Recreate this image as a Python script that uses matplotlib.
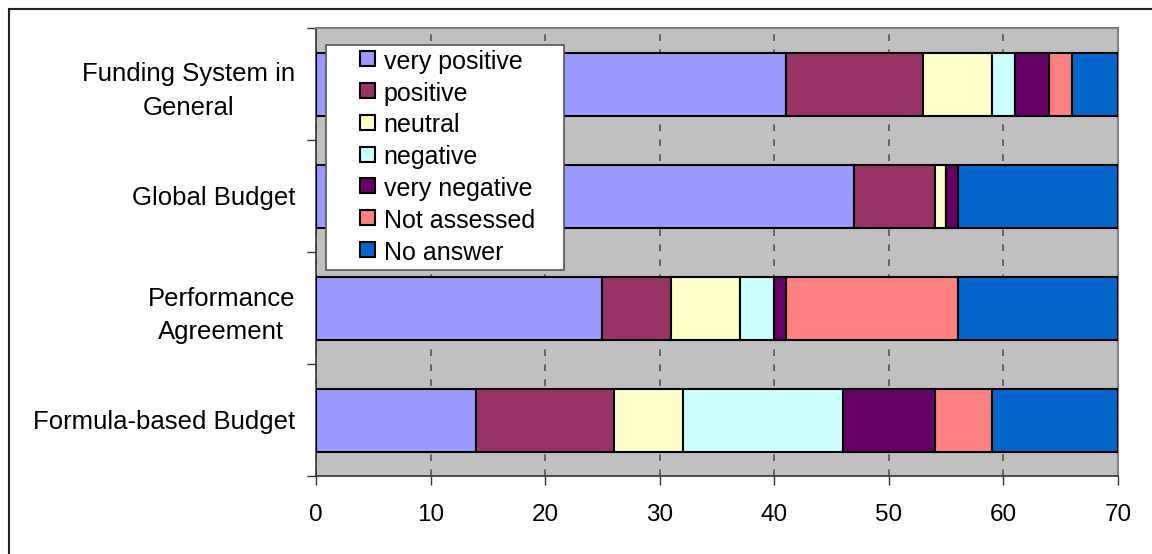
import matplotlib
matplotlib.use("Agg")
import matplotlib.pyplot as plt
import numpy as np
from matplotlib.patches import Rectangle
from matplotlib.legend_handler import HandlerBase
from matplotlib.container import BarContainer

categories = ["Funding System in\nGeneral", "Global Budget", "Performance\nAgreement", "Formula-based Budget"]
series_names = ["very positive", "positive", "neutral", "negative", "very negative", "Not assessed", "No answer"]
very_positive = [41, 47, 25, 14]
positive = [12, 7, 6, 12]
neutral = [6, 1, 6, 6]
negative = [2, 0, 3, 14]
very_negative = [3, 1, 1, 8]
not_assessed = [2, 0, 15, 5]
no_answer = [4, 14, 14, 11]
colors = ["#9999FF", "#993366", "#FFFFCC", "#CCFFFF", "#660066", "#FF8080", "#0066CC"]
xticks = [0, 10, 20, 30, 40, 50, 60, 70]

plt.rcParams['font.family'] = ['Liberation Sans', 'DejaVu Sans']

W, H = 1152, 554
fig = plt.figure(figsize=(W / 100, H / 100), dpi=100)
ax_l, ax_r, ax_t, ax_b = 316, 1118, 28, 476
ax = fig.add_axes([ax_l / W, 1 - ax_b / H, (ax_r - ax_l) / W, (ax_b - ax_t) / H])

# outer chart border
fig.patches.append(Rectangle((9 / W, -0.1), 1.2, 1 - 9 / H + 0.1, transform=fig.transFigure,
                             fill=False, edgecolor='#222222', linewidth=1.5, zorder=0))

ax.set_facecolor('#C0C0C0')
ypos = np.arange(len(categories))[::-1]
data = [very_positive, positive, neutral, negative, very_negative, not_assessed, no_answer]
left = np.zeros(len(categories))
for name, vals, c in zip(series_names, data, colors):
    vals = np.array(vals, dtype=float)
    ax.barh(ypos, vals, left=left, height=0.5625, color=c, edgecolor='black', linewidth=1.5,
            label=name, zorder=3)
    left += vals

ax.set_xlim(0, 70)
ax.set_ylim(-0.5, len(categories) - 0.5)
ax.set_xticks(xticks)
ax.set_xticklabels([str(t) for t in xticks], fontsize=17.5)
ax.xaxis.grid(True, linestyle=(0, (4, 5)), color='#555555', linewidth=1.2, zorder=1)
ax.set_axisbelow(True)
ax.set_yticks(ypos)
ax.set_yticklabels(categories, fontsize=18.5, linespacing=1.5)
ax.tick_params(axis='y', length=0, pad=15)
for lbl in ax.get_yticklabels():
    lbl.set_horizontalalignment('right')
    lbl.set_multialignment('center')
ax.set_yticks(np.arange(-0.5, len(categories), 1.0), minor=True)
ax.tick_params(axis='y', which='minor', length=6.5, width=1, color='#333333', direction='out')
ax.tick_params(axis='x', length=6.5, width=1, color='#333333', direction='out', pad=14)

for s in ['top', 'right']:
    ax.spines[s].set_color('#808080')
    ax.spines[s].set_linewidth(1.5)
for s in ['left', 'bottom']:
    ax.spines[s].set_color('#333333')
    ax.spines[s].set_linewidth(1.2)

# legend box
lg_l, lg_r, lg_t, lg_b = 326, 564, 45, 270
box = Rectangle(((lg_l - ax_l) / (ax_r - ax_l), (ax_b - lg_b) / (ax_b - ax_t)),
                (lg_r - lg_l) / (ax_r - ax_l), (lg_b - lg_t) / (ax_b - ax_t),
                transform=ax.transAxes, facecolor='white', edgecolor='#555555',
                linewidth=1.2, zorder=9, clip_on=False)
ax.add_patch(box)


class SquareHandler(HandlerBase):
    def create_artists(self, legend, orig_handle, xdescent, ydescent, width, height,
                       fontsize, trans):
        s = 10.8  # points
        fc = orig_handle.patches[0].get_facecolor()
        r = Rectangle((width - s - xdescent, (height - s) / 2 - ydescent + 1), s, s,
                      facecolor=fc, edgecolor='black', linewidth=1.5, transform=trans)
        return [r]


handles, labels = ax.get_legend_handles_labels()
leg = ax.legend(handles, labels, loc='upper left',
                bbox_to_anchor=((lg_l - ax_l) / (ax_r - ax_l), (ax_b - lg_t) / (ax_b - ax_t)),
                fontsize=18, frameon=False,
                handler_map={BarContainer: SquareHandler()},
                handlelength=1.74, handleheight=0.7, handletextpad=0.37,
                labelspacing=0.31, borderpad=0.2, borderaxespad=0)
leg.set_zorder(10)

fig.savefig("out.png", dpi=100)
